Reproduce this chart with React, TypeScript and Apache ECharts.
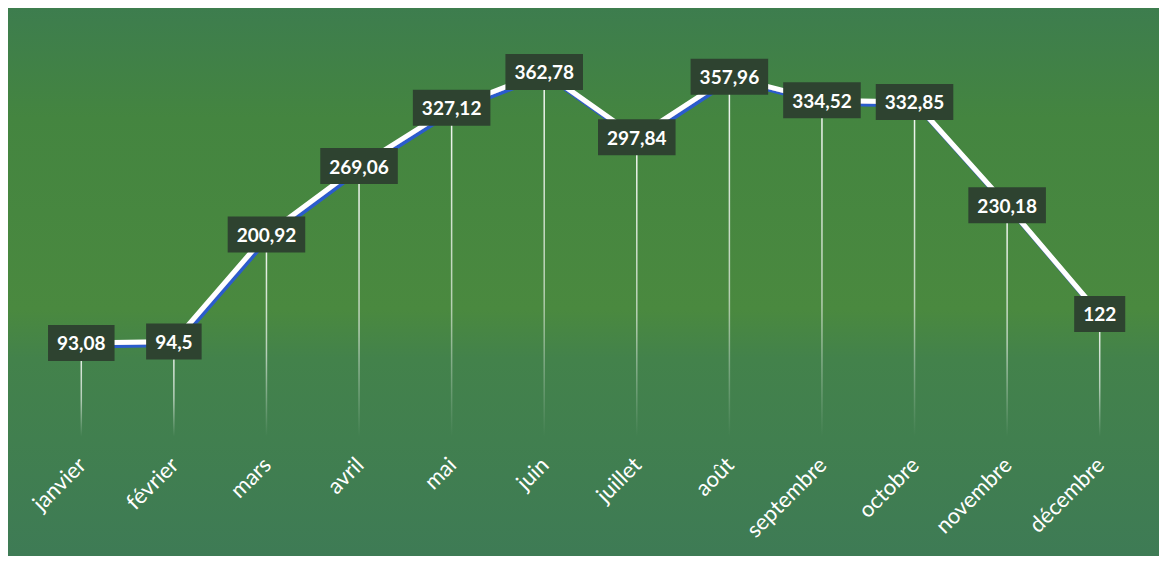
import React, { useEffect, useRef } from "react";
import * as echarts from "echarts";

const months = ["janvier", "février", "mars", "avril", "mai", "juin", "juillet", "août", "septembre", "octobre", "novembre", "décembre"];
const values = [93.08, 94.5, 200.92, 269.06, 327.12, 362.78, 297.84, 357.96, 334.52, 332.85, 230.18, 122];

const fmt = (v: number) => String(v).replace(".", ",");

export default function App() {
  const ref = useRef<HTMLDivElement>(null);
  useEffect(() => {
    if (!ref.current) return;
    const chart = echarts.init(ref.current, undefined, { renderer: "svg" });
    chart.setOption({
      animation: false,
      backgroundColor: new echarts.graphic.LinearGradient(0, 0, 0, 1, [
        { offset: 0, color: "#3d7d4e" },
        { offset: 0.2, color: "#448540" },
        { offset: 0.55, color: "#4a893f" },
        { offset: 0.64, color: "#43824b" },
        { offset: 1, color: "#3e7b55" },
      ]),
      grid: { left: 27, right: 14, top: 26.5, bottom: 119.5 },
      xAxis: {
        type: "category",
        data: months,
        axisLine: { show: false },
        axisTick: { show: false },
        axisLabel: {
          rotate: 45,
          color: "#ffffff",
          fontSize: 22,
          fontFamily: "Lato",
          margin: 24,
          interval: 0,
        },
      },
      yAxis: {
        type: "value",
        min: 0,
        max: 400,
        show: false,
        splitLine: { show: false },
      },
      series: [
        {
          type: "bar",
          data: values,
          barWidth: 1.5,
          silent: true,
          itemStyle: {
            color: new echarts.graphic.LinearGradient(0, 0, 0, 1, [
              { offset: 0, color: "rgba(255,255,255,0.95)" },
              { offset: 0.6, color: "rgba(255,255,255,0.6)" },
              { offset: 1, color: "rgba(255,255,255,0)" },
            ]),
          },
          z: 1,
        },
        {
          type: "line",
          data: values,
          symbol: "circle",
          symbolSize: 0.1,
          showSymbol: true,
          itemStyle: { color: "rgba(0,0,0,0)" },
          z: 3,
          lineStyle: {
            color: "#ffffff",
            width: 5,
            shadowColor: "#2a5ccc",
            shadowOffsetX: 2,
            shadowOffsetY: 3,
            shadowBlur: 0,
          },
          label: {
            show: true,
            position: "inside",
            formatter: (p: any) => fmt(p.value),
            color: "#ffffff",
            fontFamily: "Lato",
            fontWeight: "bold",
            fontSize: 19,
            lineHeight: 20,
            backgroundColor: "#2e4330",
            padding: [8, 9, 8, 9],
          },
        },
      ],
    });
    return () => chart.dispose();
  }, []);
  return <div ref={ref} style={{ width: 1152, height: 548 }} />;
}
